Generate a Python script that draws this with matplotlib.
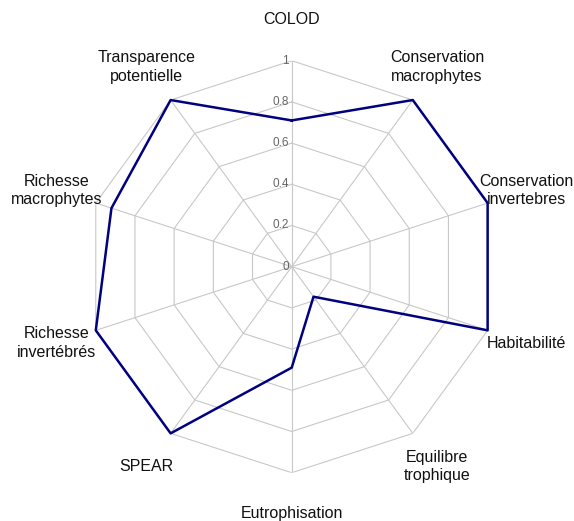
import numpy as np
import matplotlib
matplotlib.use("Agg")
import matplotlib.pyplot as plt

plt.rcParams['font.family'] = ['Liberation Sans', 'DejaVu Sans']

categories = ["COLOD", "Conservation\nmacrophytes", "Conservation\ninvertebres",
              "Habitabilité", "Equilibre\ntrophique", "Eutrophisation", "SPEAR",
              "Richesse\ninvertébrés", "Richesse\nmacrophytes", "Transparence\npotentielle"]
values = [0.71, 1.0, 1.0, 1.0, 0.18, 0.49, 1.0, 1.0, 0.92, 1.0]
ring_levels = [0.2, 0.4, 0.6, 0.8, 1.0]
tick_labels = ["0", "0.2", "0.4", "0.6", "0.8", "1"]

n = len(categories)
theta = np.linspace(0, 2 * np.pi, n, endpoint=False)
theta_closed = np.append(theta, theta[0])

fig = plt.figure(figsize=(5.74, 5.21), dpi=100)
ax = fig.add_axes([0.1493, 0.0927, 0.7178, 0.7908], projection='polar')
ax.set_theta_offset(np.pi / 2)
ax.set_theta_direction(-1)
ax.set_ylim(0, 1)
ax.grid(False)
ax.spines['polar'].set_visible(False)
ax.set_xticks([])
ax.set_yticks([])
ax.patch.set_alpha(0)

grid_color = '#c8c8c8'
# polygonal rings
for lvl in ring_levels:
    ax.plot(theta_closed, [lvl] * (n + 1), color=grid_color, lw=0.8, zorder=1)
# spokes
for t in theta:
    ax.plot([t, t], [0, 1], color=grid_color, lw=0.8, zorder=1)

# radial tick labels along the first spoke
for lvl, lab in zip([0] + ring_levels, tick_labels):
    ax.annotate(lab, xy=(0, lvl), xytext=(-2, 0), textcoords='offset points',
                ha='right', va='center', fontsize=8.5, color='#666666', zorder=2)

# data polygon
ax.plot(theta_closed, values + values[:1], color='#000080', lw=1.8, zorder=3,
        clip_on=False)

# category labels
for t, lab in zip(theta, categories):
    ax.text(t, 1.2, lab, ha='center', va='center', fontsize=11.5,
            color='#111111', linespacing=1.3)

fig.savefig("out.png", dpi=100)
